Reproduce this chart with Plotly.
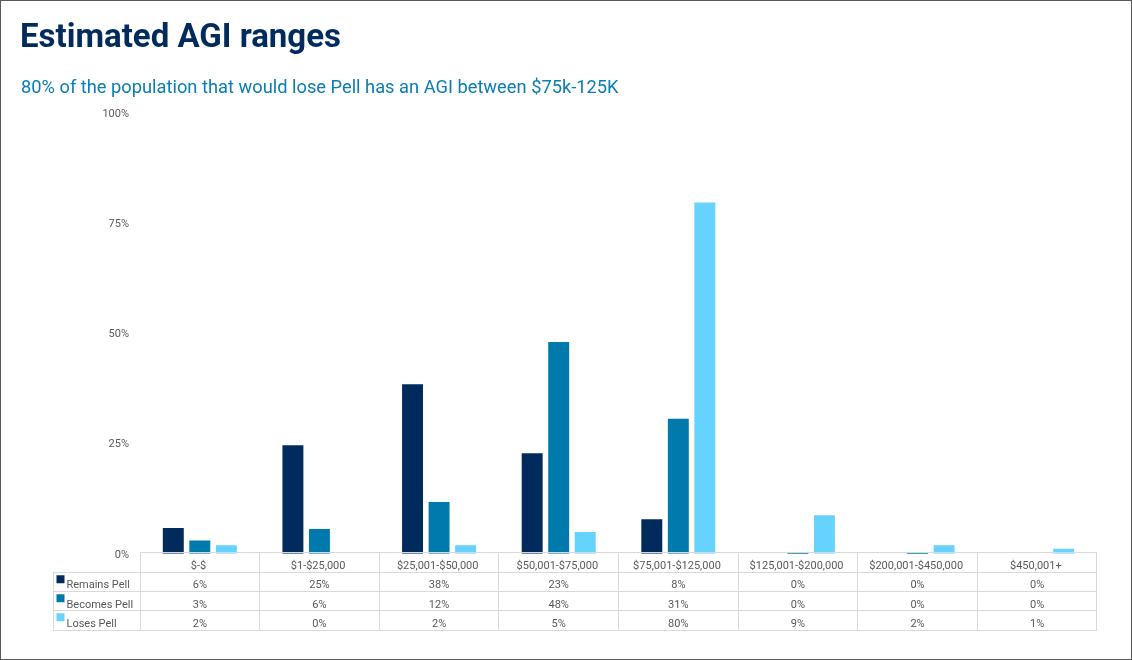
import plotly.graph_objects as go

# AGI ranges (x categories) and shares (%) for each Pell outcome
categories = ["$-$", "$1-$25,000", "$25,001-$50,000", "$50,001-$75,000",
              "$75,001-$125,000", "$125,001-$200,000", "$200,001-$450,000", "$450,001+"]
remains_pell = [5.8, 24.6, 38.4, 22.8, 7.8, 0.0, 0.0, 0.0]
becomes_pell = [3.0, 5.6, 11.7, 48.0, 30.6, 0.3, 0.3, 0.0]
loses_pell = [1.9, 0.0, 1.9, 4.9, 79.6, 8.7, 1.9, 1.1]
y_ticks = [0, 25, 50, 75, 100]

series_names = ["Remains Pell", "Becomes Pell", "Loses Pell"]
series_vals = [remains_pell, becomes_pell, loses_pell]
series_colors = ["#002b5c", "#007aad", "#66d3ff"]

W, H = 1132, 660
FONT = "Roboto"
GREY = "#595959"
NB = "\u00a0"

# the photographed page comes out slightly squashed vertically; map screen px -> figure px
SY, OY = 0.978, 6.6


def px_x(v):
    return v / W


def px_y(v):
    return 1 - ((v - OY) / SY) / H


ROW = 19 / SY

fig = go.Figure()
for name, vals, color in zip(series_names, series_vals, series_colors):
    fig.add_trace(go.Bar(x=categories, y=vals, name=name, marker_color=color,
                         marker_line_width=0, hoverinfo="x+y+name"))

# data table under the bars; trailing space keeps "$-$" from being read as LaTeX,
# non-breaking spaces stop the table from wrapping the row labels
header = [""] + [c + " " for c in categories]
first_col = [NB * 2 + n.replace(" ", NB) for n in series_names]
cols = [first_col] + [[f"{vals[i]:.0f}%" for vals in series_vals] for i in range(len(categories))]

fig.add_trace(go.Table(
    domain=dict(x=[px_x(53), px_x(1097)], y=[px_y(631), px_y(552)]),
    columnwidth=[87] + [119.6] * len(categories),
    header=dict(values=header, height=ROW, align="center",
                fill_color="rgba(0,0,0,0)",
                line=dict(color=["rgba(0,0,0,0)"] + ["#d9d9d9"] * len(categories), width=1),
                font=dict(family=FONT, size=11, color=GREY)),
    cells=dict(values=cols, height=ROW,
               align=["left"] + ["center"] * len(categories),
               fill_color="rgba(0,0,0,0)", line=dict(color="#d9d9d9", width=1),
               font=dict(family=FONT, size=11, color=GREY)),
))

# colour keys in the table's first column
fig.add_trace(go.Scatter(x=[7.5] * 3, y=series_names, mode="markers", xaxis="x2", yaxis="y2",
                         marker=dict(symbol="square", size=8, color=series_colors, line_width=0),
                         hoverinfo="skip"))

fig.update_layout(
    width=W, height=H, autosize=False,
    margin=dict(l=0, r=0, t=0, b=0),
    paper_bgcolor="rgba(0,0,0,0)", plot_bgcolor="rgba(0,0,0,0)",
    showlegend=False,
    barmode="group", bargap=0.335, bargroupgap=0.21,
    xaxis=dict(domain=[px_x(140), px_x(1097)], type="category", range=[-0.5, 7.5],
               showticklabels=False, showgrid=False, zeroline=False, showline=False),
    yaxis=dict(domain=[px_y(553), px_y(113)], range=[0, 100], tickmode="array",
               tickvals=y_ticks, ticktext=[f"{t}%" for t in y_ticks],
               showgrid=False, zeroline=False, showline=False,
               ticklabelstandoff=10,
               tickfont=dict(family=FONT, size=11, color=GREY)),
    xaxis2=dict(domain=[px_x(53), px_x(140)], range=[0, 87], visible=False, fixedrange=True),
    yaxis2=dict(domain=[px_y(626), px_y(569)], type="category", categoryarray=series_names,
                range=[2.5, -0.5], visible=False, fixedrange=True, anchor="x2"),
    title=dict(text="<b>Estimated AGI ranges</b>", x=px_x(20), xanchor="left",
               y=1 - 35 / H, yanchor="middle",
               font=dict(family=FONT, size=33, color="#002b5c")),
    annotations=[dict(text="80% of the population that would lose Pell has an AGI between $75k-125K",
                      xref="paper", yref="paper", x=px_x(19), y=1 - 82 / H,
                      xanchor="left", yanchor="middle", showarrow=False,
                      font=dict(family=FONT, size=18.3, color="#0a7db3"))],
)

# pin the plot to the top-left of the window; the chart frame is the window's own border
pin = ("document.documentElement.style.cssText='margin:0;height:100%;box-sizing:border-box;"
       "border:1.5px solid #595959;overflow:hidden;background:white';"
       "document.body.style.margin='0';"
       "var d=document.getElementById('{plot_id}');"
       "d.style.position='fixed';d.style.left='0px';d.style.top='0px';")
fig.write_html("out.html", config={"displayModeBar": False, "responsive": False},
               post_script=pin)
